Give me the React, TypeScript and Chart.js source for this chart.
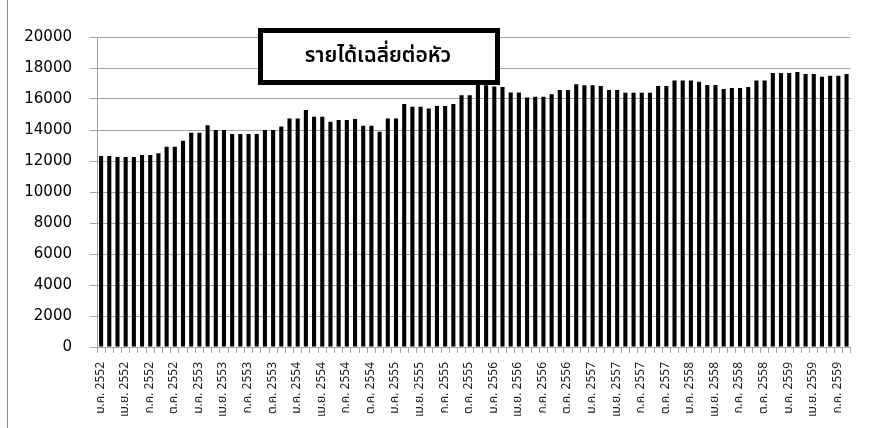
import React, { useEffect, useRef } from "react";
import { Chart, registerables } from "chart.js";

Chart.register(...registerables);

// Thai month abbreviations and Buddhist-era years covered by the series
const MONTHS = ["ม.ค.", "ก.พ.", "มี.ค.", "เม.ย.", "พ.ค.", "มิ.ย.", "ก.ค.", "ส.ค.", "ก.ย.", "ต.ค.", "พ.ย.", "ธ.ค."];
const YEARS = [2552, 2553, 2554, 2555, 2556, 2557, 2558, 2559];

// Average income per head, monthly (baht)
const income2552 = [12320, 12320, 12260, 12260, 12260, 12390, 12390, 12500, 12920, 12920, 13310, 13830];
const income2553 = [13830, 14300, 14000, 14000, 13740, 13740, 13740, 13740, 14000, 14000, 14220, 14750];
const income2554 = [14750, 15290, 14860, 14860, 14540, 14650, 14650, 14710, 14280, 14280, 13890, 14750];
const income2555 = [14750, 15680, 15500, 15500, 15380, 15550, 15550, 15680, 16240, 16240, 16900, 16880];
const income2556 = [16800, 16780, 16420, 16420, 16100, 16150, 16150, 16300, 16580, 16580, 16950, 16880];
const income2557 = [16880, 16840, 16580, 16580, 16410, 16410, 16410, 16410, 16840, 16840, 17200, 17200];
const income2558 = [17200, 17120, 16900, 16900, 16650, 16710, 16710, 16770, 17200, 17200, 17680, 17680];
const income2559 = [17680, 17740, 17610, 17610, 17440, 17500, 17500, 17610];

const TITLE = "รายได้เฉลี่ยต่อหัว";
const Y_MIN = 0;
const Y_MAX = 20000;
const Y_STEP = 2000;
const LABEL_EVERY = 3;

const values = [
  ...income2552, ...income2553, ...income2554, ...income2555,
  ...income2556, ...income2557, ...income2558, ...income2559,
];
const labels = values.map((_, i) => `${MONTHS[i % 12]} ${YEARS[Math.floor(i / 12)]}`);

const GRID = "#a3a3a3";
const THAI_FONT = '"Noto Sans Thai", Tahoma, "Liberation Sans", "DejaVu Sans", sans-serif';

// Boxed chart title drawn over the plot, plus the frame line on the left edge
const decorations = {
  id: "decorations",
  afterDraw(chart: Chart) {
    const ctx = chart.ctx;
    ctx.save();
    ctx.strokeStyle = "#8a8a8a";
    ctx.lineWidth = 1;
    ctx.beginPath();
    ctx.moveTo(7.5, 0);
    ctx.lineTo(7.5, chart.height);
    ctx.stroke();

    const bx = 258, by = 28, bw = 242, bh = 57, lw = 5;
    ctx.fillStyle = "#ffffff";
    ctx.fillRect(bx, by, bw, bh);
    ctx.strokeStyle = "#000000";
    ctx.lineWidth = lw;
    ctx.strokeRect(bx + lw / 2, by + lw / 2, bw - lw, bh - lw);
    ctx.fillStyle = "#000000";
    ctx.font = `600 21px ${THAI_FONT}`;
    ctx.textAlign = "center";
    ctx.textBaseline = "middle";
    ctx.fillText(TITLE, bx + bw / 2 - 1, by + bh / 2 + 1);
    ctx.restore();
  },
};

export default function App() {
  const canvasRef = useRef<HTMLCanvasElement | null>(null);

  useEffect(() => {
    if (!canvasRef.current) return;
    const chart = new Chart(canvasRef.current, {
      type: "bar",
      data: {
        labels,
        datasets: [
          {
            data: values,
            backgroundColor: "#000000",
            borderWidth: 0,
            categoryPercentage: 1,
            barPercentage: 0.5,
          },
        ],
      },
      options: {
        responsive: false,
        animation: false,
        layout: { padding: { left: 0, right: 10, top: 37, bottom: 0 } },
        plugins: {
          legend: { display: false },
          tooltip: { enabled: false },
          title: { display: false },
        },
        scales: {
          x: {
            offset: true,
            grid: {
              display: true,
              drawOnChartArea: false,
              drawTicks: true,
              tickLength: 6,
              color: GRID,
              offset: true,
            },
            border: { color: GRID },
            ticks: {
              autoSkip: false,
              maxRotation: 90,
              minRotation: 90,
              padding: 9,
              color: "#222222",
              font: { family: THAI_FONT, size: 12 },
              callback: (_v: any, i: number) => (i % LABEL_EVERY === 0 ? labels[i] : ""),
            },
            afterFit: (s: any) => {
              s.height = 81;
            },
          },
          y: {
            min: Y_MIN,
            max: Y_MAX,
            ticks: {
              stepSize: Y_STEP,
              padding: 18,
              color: "#000000",
              font: { family: '"DejaVu Sans", sans-serif', size: 15 },
              callback: (v: any) => String(v),
            },
            grid: { color: GRID, tickLength: 7 },
            border: { color: GRID },
            afterFit: (s: any) => {
              s.width = 97;
            },
          },
        },
      },
      plugins: [decorations],
    });
    return () => chart.destroy();
  }, []);

  return (
    <div style={{ position: "absolute", left: 0, top: 0, width: 870, height: 428, background: "#ffffff" }}>
      <canvas ref={canvasRef} width={870} height={428} style={{ display: "block" }} />
    </div>
  );
}
